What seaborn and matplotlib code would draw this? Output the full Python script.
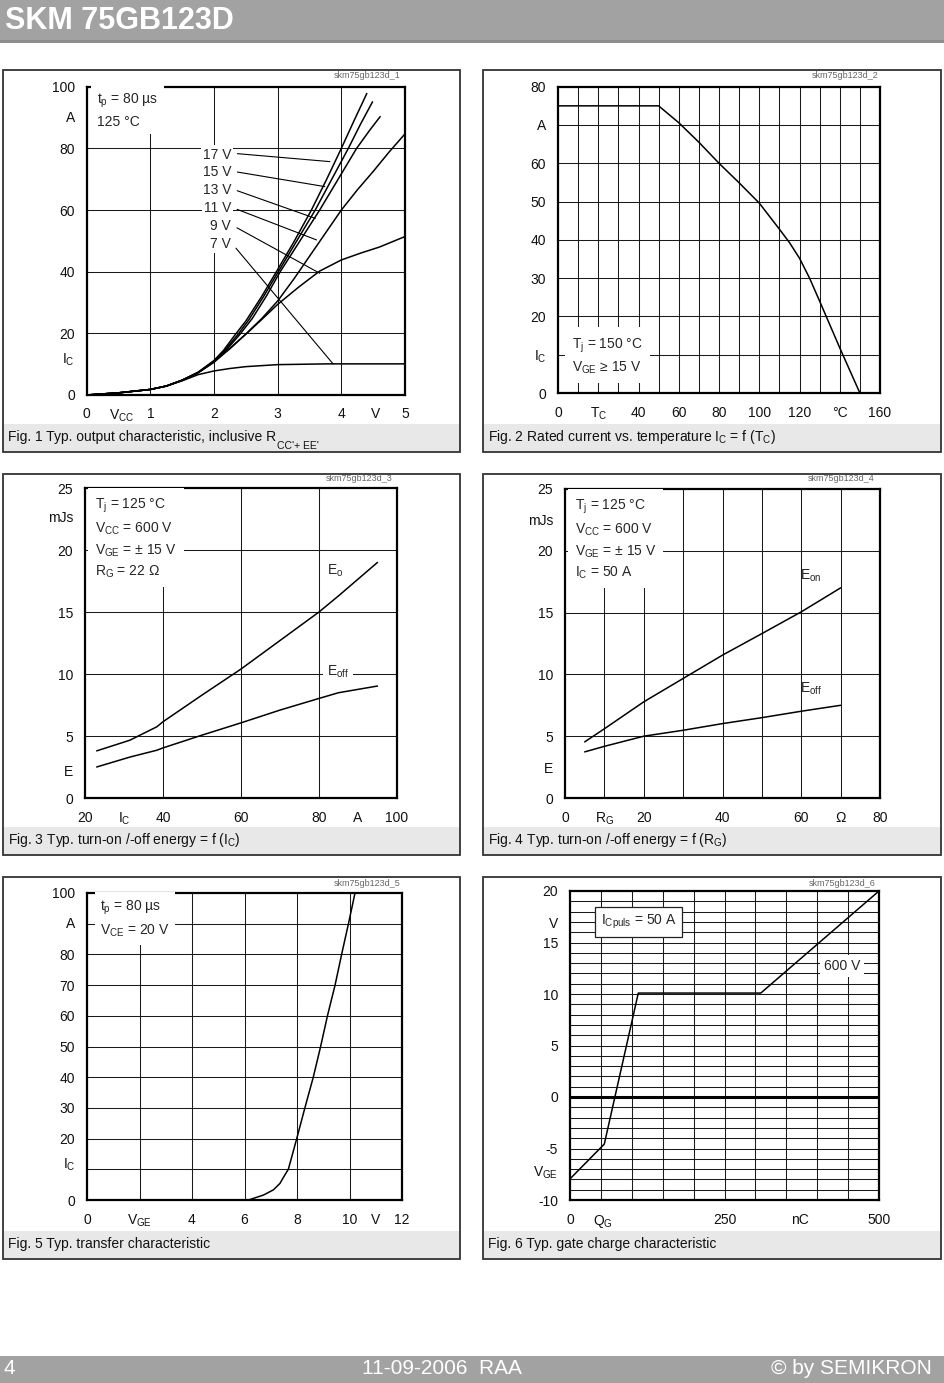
import matplotlib
matplotlib.use("Agg")
import pandas as pd
import seaborn as sns
import matplotlib.pyplot as plt
from matplotlib.patches import Rectangle

W, H = 944, 1383

# Fig. 1 - output characteristic, I_C (A) over V_CE (V) for each gate voltage
vge_levels = ["17 V", "15 V", "13 V", "11 V", "9 V", "7 V"]
vce_17 = [0, 0.5, 1.0, 1.25, 1.5, 1.75, 2.0, 2.15, 2.33, 2.5, 2.75, 2.98, 3.25, 3.53, 3.77, 4.0, 4.2, 4.40]
ic_17 = [0, 0.7, 1.8, 2.9, 4.8, 7.4, 11.2, 14.5, 19.5, 24, 32, 40, 49.5, 60, 70, 80, 89, 97.8]
vce_15 = [0, 0.5, 1.0, 1.25, 1.5, 1.75, 2.0, 2.17, 2.37, 2.55, 2.78, 3.01, 3.3, 3.59, 3.85, 4.11, 4.3, 4.49]
ic_15 = [0, 0.7, 1.8, 2.9, 4.8, 7.3, 11.0, 14.5, 19.5, 24.5, 32, 40, 50, 60, 70, 80, 87.8, 95.1]
vce_13 = [0, 0.5, 1.0, 1.25, 1.5, 1.75, 2.0, 2.2, 2.4, 2.6, 2.82, 3.04, 3.35, 3.66, 3.95, 4.24, 4.45, 4.61]
ic_13 = [0, 0.7, 1.8, 2.9, 4.8, 7.3, 10.9, 14.8, 19.5, 24.8, 32, 40, 50, 60, 70, 80, 86, 90.3]
vce_11 = [0, 0.5, 1.0, 1.25, 1.5, 1.75, 2.0, 2.25, 2.5, 2.75, 3.0, 3.25, 3.5, 3.75, 4.0, 4.25, 4.5, 4.75, 5.0]
ic_11 = [0, 0.7, 1.8, 2.9, 4.8, 7.2, 10.8, 15, 19.8, 24.8, 30.5, 37.5, 45, 52.5, 60, 66.5, 72.5, 78.8, 84.7]
vce_9 = [0, 0.5, 1.0, 1.25, 1.5, 1.75, 2.0, 2.25, 2.5, 2.75, 3.0, 3.33, 3.66, 4.0, 4.3, 4.6, 5.0]
ic_9 = [0, 0.7, 1.8, 2.9, 4.8, 7.2, 10.6, 15.2, 19.7, 24.5, 29.4, 35, 40.2, 43.8, 46, 48, 51.4]
vce_7 = [0, 0.5, 1.0, 1.25, 1.5, 1.75, 2.0, 2.25, 2.5, 3.0, 3.8, 5.0]
ic_7 = [0, 0.7, 1.8, 2.9, 4.6, 6.6, 7.8, 8.6, 9.2, 9.85, 10.1, 10.1]
# label anchor (text) and where each leader line meets its curve
lbl_y = [78, 72.2, 66.5, 60.5, 54.8, 49]
tip_x = [3.82, 3.74, 3.59, 3.61, 3.66, 3.87]
tip_y = [75.7, 67.6, 57.3, 50.3, 39.5, 10.1]

# Fig. 2 - rated current vs case temperature
tc = [0, 50, 60, 70, 80, 90, 100, 110, 115, 120, 125, 130, 140, 150]
ic_rated = [75, 75, 70.6, 65.5, 60, 54.9, 49.6, 42.8, 39.3, 35.2, 30.0, 24.0, 11.8, 0]

# Fig. 3 - switching energy vs I_C
ic_sw = [23, 31.5, 38.4, 40, 50, 60, 70, 80, 85, 95]
e_on_ic = [3.8, 4.66, 5.74, 6.15, 8.3, 10.4, 12.7, 15.0, 16.3, 19.0]
e_off_ic = [2.5, 3.3, 3.85, 4.04, 5.07, 6.06, 7.09, 8.03, 8.49, 9.03]

# Fig. 4 - switching energy vs R_G
rg = [5, 10, 20, 30, 40, 50, 60, 70]
e_on_rg = [4.54, 5.6, 7.78, 9.67, 11.56, 13.3, 15.06, 17.0]
e_off_rg = [3.73, 4.18, 5.0, 5.48, 6.02, 6.5, 7.02, 7.5]

# Fig. 5 - transfer characteristic
vge = [0, 6.15, 6.72, 7.10, 7.35, 7.54, 7.67, 7.99, 8.30, 8.62, 8.90, 9.16, 9.45, 9.70, 9.96, 10.21]
ic_tr = [0, 0, 1.6, 3.3, 5.4, 8.2, 10, 20, 30, 40, 50, 60, 70, 80, 90, 100]

# Fig. 6 - gate charge
qg = [0, 55.5, 110.5, 308.7, 500]
vge_qg = [-7.95, -4.57, 10.09, 10.09, 20]

sns.set_theme(style="white")
plt.rcParams["font.family"] = ["Liberation Sans", "DejaVu Sans"]
plt.rcParams["mathtext.fontset"] = "custom"
plt.rcParams["mathtext.rm"] = "Liberation Sans"

fig = plt.figure(figsize=(W / 100, H / 100), dpi=100)
fig.patch.set_facecolor("white")


def frame(l, t, r, b):
    return [l / W, 1 - b / H, (r - l) / W, (b - t) / H]


def page_rect(l, t, r, b, **kw):
    fig.add_artist(Rectangle((l / W, 1 - b / H), (r - l) / W, (b - t) / H,
                             transform=fig.transFigure, **kw))


def style(ax, xlim, ylim, xgrid, ygrid, xt, xl, yt, yl):
    ax.set_xlim(*xlim)
    ax.set_ylim(*ylim)
    ax.xaxis.remove_overlapping_locs = False
    ax.yaxis.remove_overlapping_locs = False
    ax.set_xticks(xgrid, minor=True)
    ax.set_yticks(ygrid, minor=True)
    ax.set_xticks(xt, xl)
    ax.set_yticks(yt, yl)
    ax.tick_params(which="both", length=0)
    ax.tick_params(axis="x", pad=9, labelsize=10, colors="#111")
    ax.tick_params(axis="y", pad=8.5, labelsize=10, colors="#111")
    ax.grid(False)
    ax.grid(True, which="minor", color="#1a1a1a", lw=0.75)
    ax.set_axisbelow(True)
    for s in ax.spines.values():
        s.set_linewidth(1.6)
        s.set_color("black")
    ax.set_xlabel("")
    ax.set_ylabel("")


def sub(s):
    return r"$\mathregular{_{%s}}$" % s


boxes = [(3, 70, 460, 452), (483, 70, 941, 452),
         (3, 474, 460, 855), (483, 474, 941, 855),
         (3, 877, 460, 1259), (483, 877, 941, 1259)]
captions = ["Fig. 1 Typ. output characteristic, inclusive R",
            "Fig. 2 Rated current vs. temperature I" + sub("C") + " = f (T" + sub("C") + ")",
            "Fig. 3 Typ. turn-on /-off energy = f (I" + sub("C") + ")",
            "Fig. 4 Typ. turn-on /-off energy = f (R" + sub("G") + ")",
            "Fig. 5 Typ. transfer characteristic",
            "Fig. 6 Typ. gate charge characteristic"]
for (l, t, r, b), cap in zip(boxes, captions):
    page_rect(l, b - 28, r, b, facecolor="#e8e8e8", edgecolor="none")
    page_rect(l, t, r, b, facecolor="none", edgecolor="#333", lw=1.3)
    fig.text((l + 5) / W, 1 - (b - 15) / H, cap, fontsize=10,
             va="center", ha="left", color="#111")
# subscript of R in the first caption
fig.text(277 / W, 1 - 441 / H, "CC'+ EE'", fontsize=7.5, va="top", ha="left", color="#111")

# header and footer bands
page_rect(0, 0, W, 42, facecolor="#a2a2a2", edgecolor="none")
page_rect(0, 40, W, 43, facecolor="#8c8c8c", edgecolor="none")
fig.text(5 / W, 1 - 21 / H, "SKM 75GB123D", fontsize=22, fontweight="bold",
         color="white", va="center", ha="left")
page_rect(0, 1356, W, H, facecolor="#a2a2a2", edgecolor="none")
fig.text(4 / W, 1 - 1368 / H, "4", fontsize=15, color="white", va="center")
fig.text(442 / W, 1 - 1368 / H, "11-09-2006  RAA", fontsize=15, color="white",
         va="center", ha="center")
fig.text(932 / W, 1 - 1368 / H, "© by SEMIKRON", fontsize=15, color="white",
         va="center", ha="right")

wm = [(400, 76), (878, 76), (392, 479), (875, 479), (400, 883), (876, 883)]
for i, (x, y) in enumerate(wm):
    fig.text(x / W, 1 - y / H, "skm75gb123d_%d" % (i + 1), fontsize=6.5,
             color="#666", ha="right", va="center")

box = dict(facecolor="white", edgecolor="none", pad=3)
lw = 1.1

# ---- Fig. 1
ax1 = fig.add_axes(frame(86.7, 86.7, 405, 395))
curves = pd.concat([
    pd.DataFrame({"vce": x, "ic": y, "vge": lab})
    for x, y, lab in zip([vce_17, vce_15, vce_13, vce_11, vce_9, vce_7],
                         [ic_17, ic_15, ic_13, ic_11, ic_9, ic_7], vge_levels)])
sns.lineplot(data=curves, x="vce", y="ic", units="vge", estimator=None,
             sort=False, color="black", lw=lw, ax=ax1)
style(ax1, (0, 5), (0, 100), [1, 2, 3, 4], [20, 40, 60, 80],
      [0, 0.55, 1, 2, 3, 4, 4.53, 5], ["0", "V" + sub("CC"), "1", "2", "3", "4", "V", "5"],
      [0, 12.1, 20, 40, 60, 80, 90.3, 100], ["0", "I" + sub("C"), "20", "40", "60", "80", "A", "100"])
ax1.text(0.16, 98.5, "t" + sub("p") + " = 80 µs\n125 °C", fontsize=10, va="top",
         linespacing=1.45, bbox=dict(facecolor="white", edgecolor="none", pad=4))
for lab, ly, tx, ty in zip(vge_levels, lbl_y, tip_x, tip_y):
    ax1.annotate(lab, xy=(tx, ty), xytext=(2.27, ly), fontsize=10, ha="right",
                 va="center", bbox=dict(facecolor="white", edgecolor="none", pad=1.5),
                 arrowprops=dict(arrowstyle="-", lw=0.8, color="black",
                                 shrinkA=3, shrinkB=0, relpos=(1, 0.6)))

# ---- Fig. 2
ax2 = fig.add_axes(frame(558, 86.7, 880, 393))
sns.lineplot(x=tc, y=ic_rated, color="black", lw=lw, ax=ax2)
style(ax2, (0, 160), (0, 80), range(10, 160, 10), range(10, 80, 10),
      [0, 20, 40, 60, 80, 100, 120, 140, 160],
      ["0", "T" + sub("C"), "40", "60", "80", "100", "120", "°C", "160"],
      [0, 10, 20, 30, 40, 50, 60, 70, 80],
      ["0", "I" + sub("C"), "20", "30", "40", "50", "60", "A", "80"])
ax2.text(7, 14.8, "T" + sub("j") + " = 150 °C\nV" + sub("GE") + " ≥ 15 V", fontsize=10,
         va="top", linespacing=1.45, bbox=dict(facecolor="white", edgecolor="none", pad=5))

# ---- Fig. 3
ax3 = fig.add_axes(frame(85, 488, 397, 798))
e_ic = pd.concat([pd.DataFrame({"ic": ic_sw, "e": e_on_ic, "k": "on"}),
                  pd.DataFrame({"ic": ic_sw, "e": e_off_ic, "k": "off"})])
sns.lineplot(data=e_ic, x="ic", y="e", units="k", estimator=None, sort=False,
             color="black", lw=lw, ax=ax3)
style(ax3, (20, 100), (0, 25), [40, 60, 80], [5, 10, 15, 20],
      [20, 30, 40, 60, 80, 90, 100], ["20", "I" + sub("C"), "40", "60", "80", "A", "100"],
      [0, 2.2, 5, 10, 15, 20, 22.7, 25], ["0", "E", "5", "10", "15", "20", "mJs", "25"])
ax3.text(22.6, 24.3, "T" + sub("j") + " = 125 °C\nV" + sub("CC") + " = 600 V\nV" + sub("GE")
         + " = ± 15 V\nR" + sub("G") + " = 22 Ω", fontsize=10, va="top", linespacing=1.45,
         bbox=dict(facecolor="white", edgecolor="none", pad=5))
ax3.text(82, 18.3, "E" + sub("o"), fontsize=10, va="center")
ax3.text(82, 10.2, "E" + sub("off"), fontsize=10, va="center", bbox=box)

# ---- Fig. 4
ax4 = fig.add_axes(frame(565, 489, 880, 798))
e_rg = pd.concat([pd.DataFrame({"rg": rg, "e": e_on_rg, "k": "on"}),
                  pd.DataFrame({"rg": rg, "e": e_off_rg, "k": "off"})])
sns.lineplot(data=e_rg, x="rg", y="e", units="k", estimator=None, sort=False,
             color="black", lw=lw, ax=ax4)
style(ax4, (0, 80), (0, 25), range(10, 80, 10), [5, 10, 15, 20],
      [0, 10, 20, 40, 60, 70, 80], ["0", "R" + sub("G"), "20", "40", "60", "Ω", "80"],
      [0, 2.5, 5, 10, 15, 20, 22.5, 25], ["0", "E", "5", "10", "15", "20", "mJs", "25"])
ax4.text(2.5, 24.3, "T" + sub("j") + " = 125 °C\nV" + sub("CC") + " = 600 V\nV" + sub("GE")
         + " = ± 15 V\nI" + sub("C") + " = 50 A", fontsize=10, va="top", linespacing=1.45,
         bbox=dict(facecolor="white", edgecolor="none", pad=5))
ax4.text(59.6, 18.0, "E" + sub("on"), fontsize=10, va="center")
ax4.text(59.6, 8.8, "E" + sub("off"), fontsize=10, va="center")

# ---- Fig. 5
ax5 = fig.add_axes(frame(87, 893, 402, 1200))
sns.lineplot(x=vge, y=ic_tr, color="black", lw=lw, ax=ax5)
style(ax5, (0, 12), (0, 100), [2, 4, 6, 8, 10], range(10, 100, 10),
      [0, 2, 4, 6, 8, 10, 11, 12], ["0", "V" + sub("GE"), "4", "6", "8", "10", "V", "12"],
      [0, 12.2, 20, 30, 40, 50, 60, 70, 80, 90.4, 100],
      ["0", "I" + sub("C"), "20", "30", "40", "50", "60", "70", "80", "A", "100"])
ax5.text(0.5, 98, "t" + sub("p") + " = 80 µs\nV" + sub("CE") + " = 20 V", fontsize=10,
         va="top", linespacing=1.45, bbox=dict(facecolor="white", edgecolor="none", pad=4))

# ---- Fig. 6
ax6 = fig.add_axes(frame(570, 891, 879, 1200))
sns.lineplot(x=qg, y=vge_qg, color="black", lw=lw, ax=ax6)
style(ax6, (0, 500), (-10, 20), range(50, 500, 50), range(-9, 20),
      [0, 54, 250, 372, 500], ["0", "Q" + sub("G"), "250", "nC", "500"],
      [-10, -7.1, -5, 0, 5, 10, 15, 16.9, 20],
      ["-10", "V" + sub("GE"), "-5", "0", "5", "10", "15", "V", "20"])
ax6.axhline(0, color="black", lw=2.2, zorder=1.5)
ax6.text(50, 17.0, "I" + sub("Cpuls") + " = 50 A", fontsize=10, va="center",
         bbox=dict(facecolor="white", edgecolor="#222", lw=0.9, pad=4))
ax6.text(440, 12.75, "600 V", fontsize=10, va="center", ha="center",
         bbox=dict(facecolor="white", edgecolor="none", pad=3))

fig.savefig("out.png", dpi=100)
